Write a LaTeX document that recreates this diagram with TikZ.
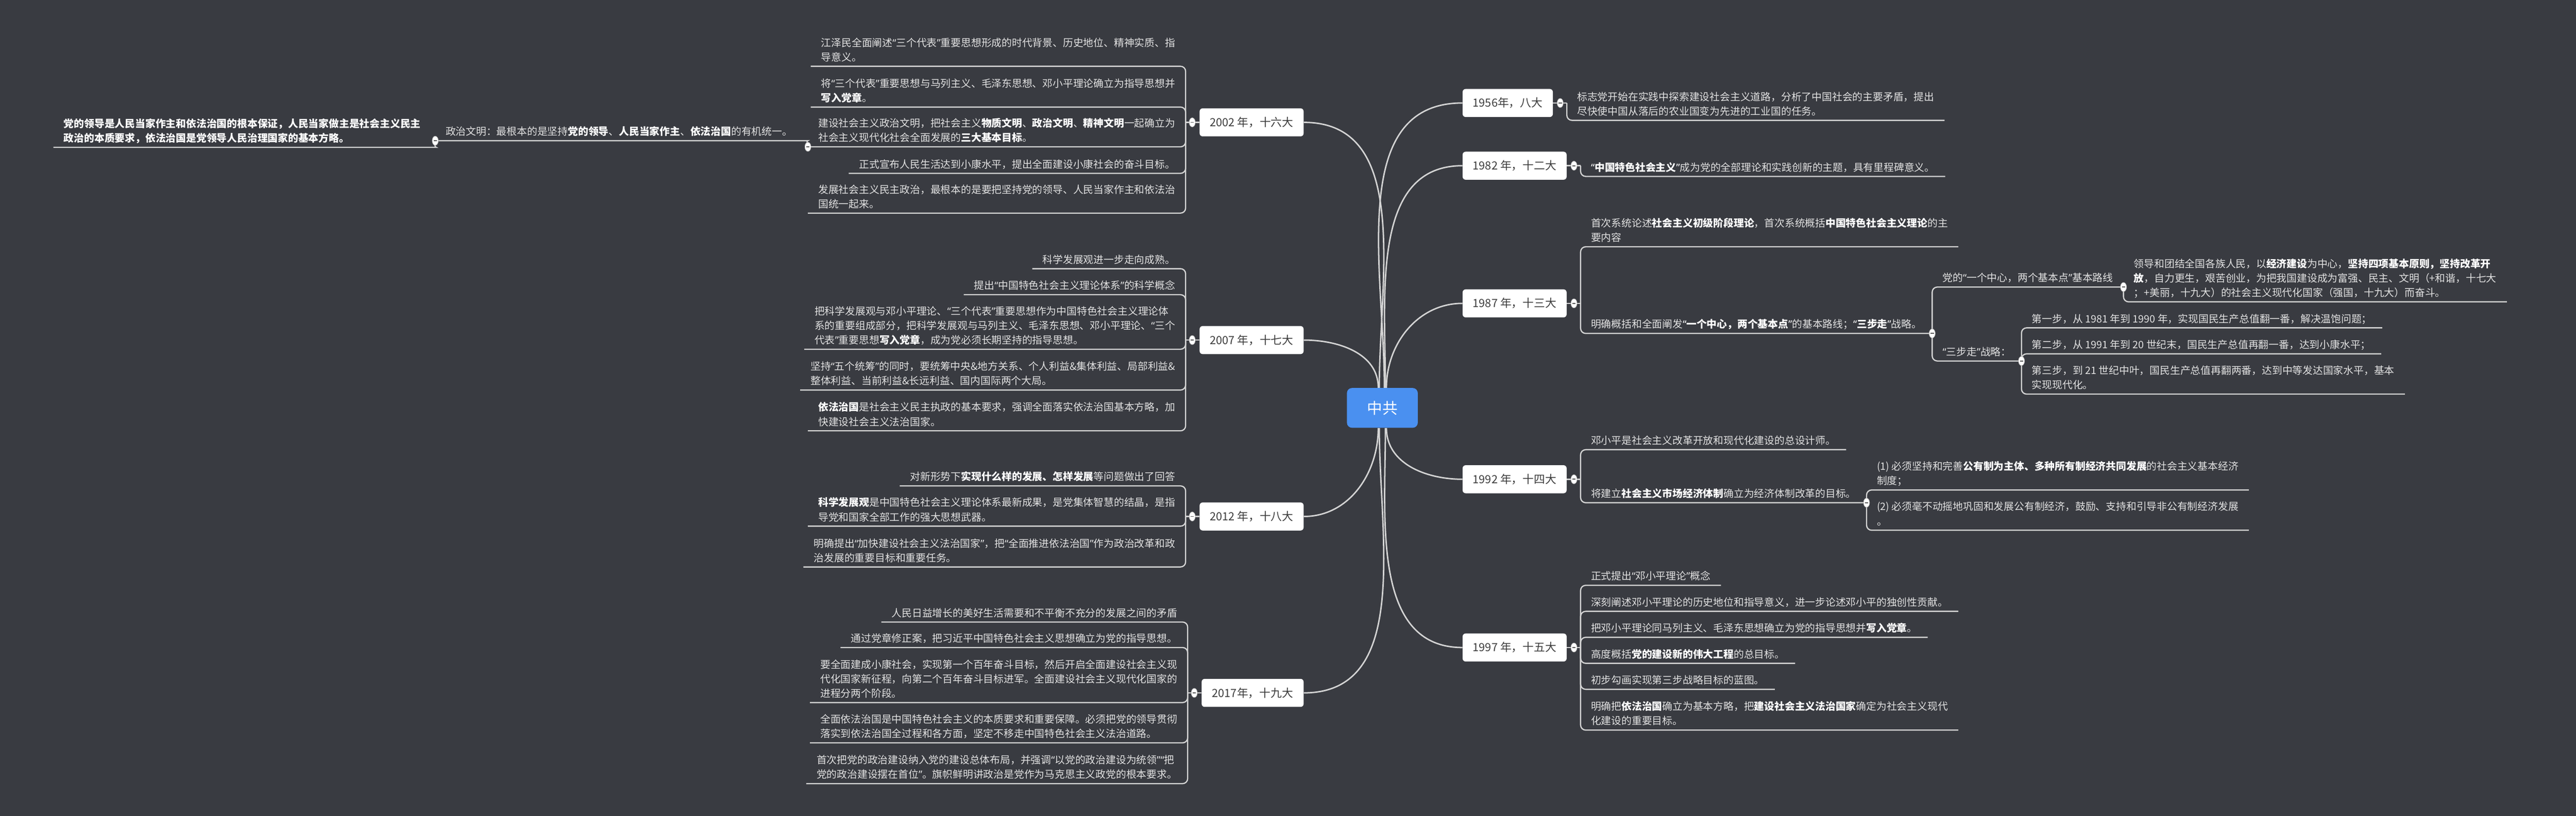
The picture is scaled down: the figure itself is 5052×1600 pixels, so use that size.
\documentclass[tikz,border=0pt]{standalone}
\usepackage{fontspec}
\setmainfont{Noto Sans CJK SC}
\newfontfamily\quotefont{Noto Sans}
\usetikzlibrary{calc}
\definecolor{bg}{HTML}{393B41}
\definecolor{linec}{HTML}{D4D4D4}
\definecolor{txtc}{HTML}{E2E2E2}
\definecolor{centerc}{HTML}{4A90F0}
\definecolor{yeartxt}{HTML}{3C3C3C}
\newcommand{\kb}[1]{\textbf{\color{white}#1}}
\newcommand{\oq}{{\quotefont “}}
\newcommand{\cq}{{\quotefont ”}}
\newcommand{\collapsemark}[1]{%
  \filldraw[fill=white,draw=gray!60,line width=0.4pt] (#1) ellipse (3pt and 4.5pt);
  \draw[line width=0.9pt,draw=gray!70!black] ($(#1)+(-1.6pt,0)$) -- ($(#1)+(1.6pt,0)$);}
\tikzset{
  every node/.style={font=\fontsize{10pt}{14.25pt}\selectfont, text=txtc},
  kid/.style={inner xsep=10pt, inner ysep=3pt, text depth=2pt, align=left},
  yearbox/.style={fill=white, rounded corners=3pt, minimum height=27.5pt, inner xsep=8pt,
    text=yeartxt, font=\fontsize{11pt}{13pt}\selectfont, minimum width=102pt},
  rootbox/.style={fill=centerc, rounded corners=5pt, minimum width=69.5pt, minimum height=39pt,
    text=white, font=\fontsize{15pt}{18pt}\selectfont},
  ul/.style={draw=linec, line width=1.2pt, rounded corners=5pt},
  trunk/.style={draw=linec, line width=1.4pt},
}
\begin{document}
\begin{tikzpicture}[x=0.5pt,y=-0.5pt]
\useasboundingbox (0,0) rectangle (5052,1600);
\fill[bg] (0,0) rectangle (5052,1600);

% root
\node[rootbox] (root) at (2711,800) {中共};

% year nodes, left
\node[yearbox,anchor=east] (n2002) at (2557,240) {2002 年，十六大};
\node[yearbox,anchor=east] (n2007) at (2557,667) {2007 年，十七大};
\node[yearbox,anchor=east] (n2012) at (2557,1013) {2012 年，十八大};
\node[yearbox,anchor=east,minimum width=100pt] (n2017) at (2557,1359) {2017年，十九大};
% year nodes, right
\node[yearbox,anchor=west,minimum width=88.5pt] (n1956) at (2868,202) {1956年，八大};
\node[yearbox,anchor=west] (n1982) at (2868,325) {1982 年，十二大};
\node[yearbox,anchor=west] (n1987) at (2868,595) {1987 年，十三大};
\node[yearbox,anchor=west] (n1992) at (2868,940) {1992 年，十四大};
\node[yearbox,anchor=west] (n1997) at (2868,1270) {1997 年，十五大};

% trunk connectors
\draw[trunk] ([xshift=-3pt]root.north) to[out=90,in=0] (n2002.east);
\draw[trunk] ([xshift=-4pt]root.north) to[out=90,in=0] (n2007.east);
\draw[trunk] ([xshift=-4pt]root.south) to[out=-90,in=0] (n2012.east);
\draw[trunk] ([xshift=-3pt]root.south) to[out=-90,in=0] (n2017.east);
\draw[trunk] ([xshift=2pt]root.north) to[out=90,in=180] (n1956.west);
\draw[trunk] ([xshift=3pt]root.north) to[out=90,in=180] (n1982.west);
\draw[trunk] ([xshift=4pt]root.north) to[out=90,in=180] (n1987.west);
\draw[trunk] ([xshift=4pt]root.south) to[out=-90,in=180] (n1992.west);
\draw[trunk] ([xshift=3pt]root.south) to[out=-90,in=180] (n1997.west);

% bracket points
\coordinate (k2002) at ([xshift=-13.5pt]n2002.west);
\coordinate (k2007) at ([xshift=-13.5pt]n2007.west);
\coordinate (k2012) at ([xshift=-13.5pt]n2012.west);
\coordinate (k2017) at ([xshift=-13.5pt]n2017.west);
\coordinate (k1956) at ([xshift=13.5pt]n1956.east);
\coordinate (k1982) at ([xshift=13.5pt]n1982.east);
\coordinate (k1987) at ([xshift=13.5pt]n1987.east);
\coordinate (k1992) at ([xshift=13.5pt]n1992.east);
\coordinate (k1997) at ([xshift=13.5pt]n1997.east);
\foreach \y in {2002,2007,2012,2017} {\draw[ul] (n\y.west) -- (k\y);}
\foreach \y in {1956,1982,1987,1992,1997} {\draw[ul] (n\y.east) -- (k\y);}

% ---------- 2002 ----------
\node[kid,anchor=south east] (a1) at (k2002 |- 0,130) {江泽民全面阐述\oq{}三个代表\cq{}重要思想形成的时代背景、历史地位、精神实质、指\\导意义。};
\node[kid,anchor=south east] (a2) at (k2002 |- 0,210) {将\oq{}三个代表\cq{}重要思想与马列主义、毛泽东思想、邓小平理论确立为指导思想并\\\kb{写入党章}。};
\node[kid,anchor=south east] (a3) at (k2002 |- 0,288) {建设社会主义政治文明，把社会主义\kb{物质文明}、\kb{政治文明}、\kb{精神文明}一起确立为\\社会主义现代化社会全面发展的\kb{三大基本目标}。};
\node[kid,anchor=south east] (a4) at (k2002 |- 0,340) {正式宣布人民生活达到小康水平，提出全面建设小康社会的奋斗目标。};
\node[kid,anchor=south east] (a5) at (k2002 |- 0,418) {发展社会主义民主政治，最根本的是要把坚持党的领导、人民当家作主和依法治\\国统一起来。};
\foreach \c in {a1,a2,a3,a4,a5} {\draw[ul] (k2002) -- (\c.south east) -- (\c.south west);}
\node[kid,anchor=south east] (b1) at ($(a3.south west)+(-5pt,6pt)$) {政治文明：最根本的是坚持\kb{党的领导}、\kb{人民当家作主}、\kb{依法治国}的有机统一。};
\draw[ul] (a3.south west) to[out=90,in=0] (b1.south east) -- (b1.south west);
\node[kid,anchor=south east] (c1) at ($(b1.south west)+(-4pt,-6.5pt)$) {\kb{党的领导是人民当家作主和依法治国的根本保证，人民当家做主是社会主义民主}\\\kb{政治的本质要求，依法治国是党领导人民治理国家的基本方略。}};
\draw[ul] (b1.south west) to[out=-90,in=0] (c1.south east) -- (c1.south west);

% ---------- 2007 ----------
\node[kid,anchor=south east] (d1) at (k2007 |- 0,527) {科学发展观进一步走向成熟。};
\node[kid,anchor=south east] (d2) at (k2007 |- 0,578) {提出\oq{}中国特色社会主义理论体系\cq{}的科学概念};
\node[kid,anchor=south east] (d3) at (k2007 |- 0,685) {把科学发展观与邓小平理论、\oq{}三个代表\cq{}重要思想作为中国特色社会主义理论体\\系的重要组成部分，把科学发展观与马列主义、毛泽东思想、邓小平理论、\oq{}三个\\代表\cq{}重要思想\kb{写入党章}，成为党必须长期坚持的指导思想。};
\node[kid,anchor=south east] (d4) at (k2007 |- 0,765) {坚持\oq{}五个统筹\cq{}的同时，要统筹中央\&地方关系、个人利益\&集体利益、局部利益\&\\整体利益、当前利益\&长远利益、国内国际两个大局。};
\node[kid,anchor=south east] (d5) at (k2007 |- 0,845) {\kb{依法治国}是社会主义民主执政的基本要求，强调全面落实依法治国基本方略，加\\快建设社会主义法治国家。};
\foreach \c in {d1,d2,d3,d4,d5} {\draw[ul] (k2007) -- (\c.south east) -- (\c.south west);}

% ---------- 2012 ----------
\node[kid,anchor=south east] (e1) at (k2012 |- 0,953) {对新形势下\kb{实现什么样的发展、怎样发展}等问题做出了回答};
\node[kid,anchor=south east] (e2) at (k2012 |- 0,1032) {\kb{科学发展观}是中国特色社会主义理论体系最新成果，是党集体智慧的结晶，是指\\导党和国家全部工作的强大思想武器。};
\node[kid,anchor=south east] (e3) at (k2012 |- 0,1112) {明确提出\oq{}加快建设社会主义法治国家\cq{}，把\oq{}全面推进依法治国\cq{}作为政治改革和政\\治发展的重要目标和重要任务。};
\foreach \c in {e1,e2,e3} {\draw[ul] (k2012) -- (\c.south east) -- (\c.south west);}

% ---------- 2017 ----------
\node[kid,anchor=south east] (f1) at (k2017 |- 0,1220) {人民日益增长的美好生活需要和不平衡不充分的发展之间的矛盾};
\node[kid,anchor=south east] (f2) at (k2017 |- 0,1270) {通过党章修正案，把习近平中国特色社会主义思想确立为党的指导思想。};
\node[kid,anchor=south east] (f3) at (k2017 |- 0,1378) {要全面建成小康社会，实现第一个百年奋斗目标，然后开启全面建设社会主义现\\代化国家新征程，向第二个百年奋斗目标进军。全面建设社会主义现代化国家的\\进程分两个阶段。};
\node[kid,anchor=south east] (f4) at (k2017 |- 0,1457) {全面依法治国是中国特色社会主义的本质要求和重要保障。必须把党的领导贯彻\\落实到依法治国全过程和各方面，坚定不移走中国特色社会主义法治道路。};
\node[kid,anchor=south east] (f5) at (k2017 |- 0,1537) {首次把党的政治建设纳入党的建设总体布局，并强调\oq{}以党的政治建设为统领\cq{}\oq{}把\\党的政治建设摆在首位\cq{}。旗帜鲜明讲政治是党作为马克思主义政党的根本要求。};
\foreach \c in {f1,f2,f3,f4,f5} {\draw[ul] (k2017) -- (\c.south east) -- (\c.south west);}

% ---------- 1956 ----------
\node[kid,anchor=south west] (g1) at (k1956 |- 0,236) {标志党开始在实践中探索建设社会主义道路，分析了中国社会的主要矛盾，提出\\尽快使中国从落后的农业国变为先进的工业国的任务。};
\draw[ul] (k1956) -- (g1.south west) -- (g1.south east);

% ---------- 1982 ----------
\node[kid,anchor=south west] (h1) at (k1982 |- 0,346) {\kb{\oq{}中国特色社会主义\cq{}}成为党的全部理论和实践创新的主题，具有里程碑意义。};
\draw[ul] (k1982) -- (h1.south west) -- (h1.south east);

% ---------- 1987 ----------
\node[kid,anchor=south west] (i1) at (k1987 |- 0,484) {首次系统论述\kb{社会主义初级阶段理论}，首次系统概括\kb{中国特色社会主义理论}的主\\要内容};
\node[kid,anchor=south west] (i2) at (k1987 |- 0,654) {明确概括和全面阐发\kb{\oq{}一个中心，两个基本点\cq{}}的基本路线；\kb{\oq{}三步走\cq{}}战略。};
\foreach \c in {i1,i2} {\draw[ul] (k1987) -- (\c.south west) -- (\c.south east);}
\node[kid,anchor=south west] (j1) at (i2.south east |- 0,563) {党的\oq{}一个中心，两个基本点\cq{}基本路线};
\node[kid,anchor=south west] (j2) at (i2.south east |- 0,708) {\oq{}三步走\cq{}战略：};
\foreach \c in {j1,j2} {\draw[ul] (i2.south east) -- (\c.south west) -- (\c.south east);}
\node[kid,anchor=south west] (m1) at (j1.south east |- 0,592) {领导和团结全国各族人民，以\kb{经济建设}为中心，\kb{坚持四项基本原则，坚持改革开}\\\kb{放}，自力更生，艰苦创业，为把我国建设成为富强、民主、文明（+和谐，十七大\\；+美丽，十九大）的社会主义现代化国家（强国，十九大）而奋斗。};
\draw[ul] (j1.south east) -- (m1.south west) -- (m1.south east);
\node[kid,anchor=south west] (s1) at (j2.south east |- 0,643) {第一步，从 1981 年到 1990 年，实现国民生产总值翻一番，解决温饱问题；};
\node[kid,anchor=south west] (s2) at (j2.south east |- 0,694) {第二步，从 1991 年到 20 世纪末，国民生产总值再翻一番，达到小康水平；};
\node[kid,anchor=south west] (s3) at (j2.south east |- 0,773) {第三步，到 21 世纪中叶，国民生产总值再翻两番，达到中等发达国家水平，基本\\实现现代化。};
\foreach \c in {s1,s2,s3} {\draw[ul] (j2.south east) -- (\c.south west) -- (\c.south east);}

% ---------- 1992 ----------
\node[kid,anchor=south west] (p1) at (k1992 |- 0,882) {邓小平是社会主义改革开放和现代化建设的总设计师。};
\node[kid,anchor=south west] (p2) at (k1992 |- 0,986) {将建立\kb{社会主义市场经济体制}确立为经济体制改革的目标。};
\foreach \c in {p1,p2} {\draw[ul] (k1992) -- (\c.south west) -- (\c.south east);}
\node[kid,anchor=south west] (q1) at (p2.south east |- 0,961) {(1) 必须坚持和完善\kb{公有制为主体、多种所有制经济共同发展}的社会主义基本经济\\制度；};
\node[kid,anchor=south west] (q2) at (p2.south east |- 0,1040) {(2) 必须毫不动摇地巩固和发展公有制经济，鼓励、支持和引导非公有制经济发展\\。};
\foreach \c in {q1,q2} {\draw[ul] (p2.south east) -- (\c.south west) -- (\c.south east);}

% ---------- 1997 ----------
\node[kid,anchor=south west] (t1) at (k1997 |- 0,1148) {正式提出\oq{}邓小平理论\cq{}概念};
\node[kid,anchor=south west] (t2) at (k1997 |- 0,1199) {深刻阐述邓小平理论的历史地位和指导意义，进一步论述邓小平的独创性贡献。};
\node[kid,anchor=south west] (t3) at (k1997 |- 0,1250) {把邓小平理论同马列主义、毛泽东思想确立为党的指导思想并\kb{写入党章}。};
\node[kid,anchor=south west] (t4) at (k1997 |- 0,1301) {高度概括\kb{党的建设新的伟大工程}的总目标。};
\node[kid,anchor=south west] (t5) at (k1997 |- 0,1352) {初步勾画实现第三步战略目标的蓝图。};
\node[kid,anchor=south west] (t6) at (k1997 |- 0,1432) {明确把\kb{依法治国}确立为基本方略，把\kb{建设社会主义法治国家}确定为社会主义现代\\化建设的重要目标。};
\foreach \c in {t1,t2,t3,t4,t5,t6} {\draw[ul] (k1997) -- (\c.south west) -- (\c.south east);}

% collapse marks
\foreach \y in {2002,2007,2012,2017} {\collapsemark{[xshift=-7pt]n\y.west}}
\foreach \y in {1956,1982,1987,1992,1997} {\collapsemark{[xshift=7pt]n\y.east}}
\collapsemark{a3.south west}
\collapsemark{b1.south west}
\collapsemark{i2.south east}
\collapsemark{j1.south east}
\collapsemark{j2.south east}
\collapsemark{p2.south east}
\end{tikzpicture}
\end{document}
